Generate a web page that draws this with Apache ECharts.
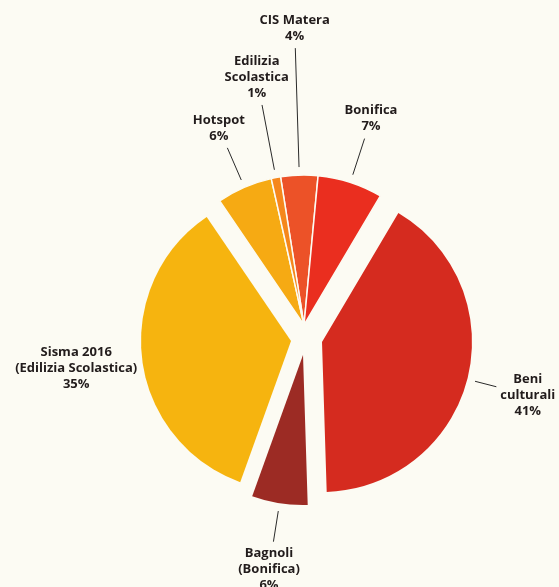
<!DOCTYPE html>
<html><head><meta charset="utf-8">
<script src="https://cdn.jsdelivr.net/npm/echarts@6/dist/echarts.min.js"></script>
<style>html,body{margin:0;padding:0;background:#fcfbf3;}#chart{width:559px;height:587px;}</style>
</head><body><div id="chart"></div>
<script>
// Data
const categories = ['CIS Matera', 'Bonifica', 'Beni\nculturali', 'Bagnoli\n(Bonifica)', 'Sisma 2016\n(Edilizia Scolastica)', 'Hotspot', 'Edilizia\nScolastica'];
const shares = [4, 7, 41, 6, 35, 6, 1];
// which exploded piece each slice belongs to
const sliceGroup = [0, 0, 1, 2, 3, 0, 0];

// Styles / layout
const bg = '#fcfbf3';
const colors = ['#EC5228', '#EA2E1F', '#D52B1F', '#9C2B24', '#F6B40F', '#F6AA13', '#F5871C'];
const groupCenters = [[304, 325], [322, 342], [303, 355], [291, 341]];
const lineLengths = [127, 46, 30, 39, 1, 43, 74];

function layoutFn(p) {
  const pts = p.labelLinePoints;
  if (!pts || pts.length < 2) return {};
  const a = pts[0], b = pts[1];
  let dx = b[0] - a[0], dy = b[1] - a[1];
  const L = Math.hypot(dx, dy) || 1; dx /= L; dy /= L;
  const gap = 8, pad = 4;
  const s = [a[0] + dx * gap, a[1] + dy * gap];
  const w = p.labelRect.width, h = p.labelRect.height;
  const tx = Math.abs(dx) > 1e-6 ? w / 2 / Math.abs(dx) : Infinity;
  const ty = Math.abs(dy) > 1e-6 ? h / 2 / Math.abs(dy) : Infinity;
  const t = Math.min(tx, ty) + pad;
  return { x: b[0] + dx * t, y: b[1] + dy * t, align: 'center', verticalAlign: 'middle', labelLinePoints: [s, b, b] };
}

const series = groupCenters.map((c, g) => ({
  type: 'pie',
  center: c,
  radius: [0, 150],
  startAngle: 99,
  clockwise: true,
  avoidLabelOverlap: false,
  silent: true,
  animation: false,
  label: {
    show: true, position: 'outside',
    formatter: p => p.name + '\n' + p.value + '%',
    fontFamily: 'Open Sans', fontWeight: 'bold', fontSize: 13, lineHeight: 16,
    color: '#221c1c', align: 'center'
  },
  labelLine: { show: true, length2: 0, smooth: false, lineStyle: { color: '#2a2a2a', width: 1 } },
  labelLayout: layoutFn,
  data: categories.map((name, i) => {
    const mine = sliceGroup[i] === g;
    return {
      name: name, value: shares[i],
      itemStyle: { color: mine ? colors[i] : 'rgba(0,0,0,0)', borderColor: bg, borderWidth: (mine && g === 0) ? 1.5 : 0 },
      label: { show: mine },
      labelLine: { show: mine, length: lineLengths[i], lineStyle: { opacity: i === 4 ? 0 : 1 } }
    };
  })
}));

const chart = echarts.init(document.getElementById('chart'), null, { renderer: 'canvas' });
chart.setOption({ backgroundColor: bg, series: series });
</script>
</body></html>
